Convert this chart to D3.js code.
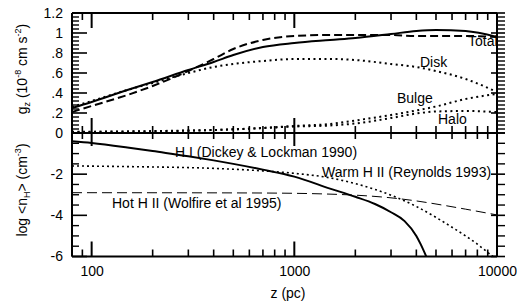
<!DOCTYPE html>
<html><head><meta charset="utf-8">
<script src="https://cdn.jsdelivr.net/npm/d3@7"></script>
<style>
body{margin:0;background:#fff}
svg{display:block}
text{font-family:"Liberation Sans",Arial,Helvetica,sans-serif;fill:#000}
</style>
</head><body>
<svg id="c" width="517" height="306"></svg>
<script>
// ---------- data ----------
const zTop = [80,100,150,200,300,400,500,700,1000,1500,2000,3000,4000,5000,7000,10000];
const gTotal = [0.25,0.31,0.43,0.51,0.63,0.71,0.78,0.86,0.90,0.93,0.95,0.99,1.02,1.03,1.02,0.96];
const gAlt   = [0.21,0.27,0.38,0.47,0.62,0.74,0.84,0.93,0.97,0.98,0.98,0.98,0.97,0.97,0.97,0.96];
const gDisk  = [0.26,0.32,0.43,0.50,0.60,0.66,0.69,0.72,0.74,0.74,0.73,0.69,0.66,0.62,0.54,0.41];
const gHalo  = [0.012,0.013,0.016,0.019,0.025,0.030,0.036,0.050,0.070,0.090,0.125,0.180,0.225,0.265,0.340,0.390];
const gBulge = [0.010,0.011,0.014,0.017,0.023,0.030,0.037,0.050,0.065,0.075,0.095,0.150,0.195,0.215,0.220,0.210];

const zHI  = [80,100,150,200,300,400,500,700,1000,1500,2000,2500,3000,3500,4000,4200,4500];
const nHI  = [-0.40,-0.48,-0.70,-0.88,-1.13,-1.33,-1.50,-1.78,-2.12,-2.70,-3.10,-3.45,-3.85,-4.28,-5.00,-5.40,-6.05];
const zWarm = [80,100,200,300,500,700,1000,1500,2000,3000,4000,5000,6000,7000,8000,9000,10000];
const nWarm = [-1.60,-1.61,-1.65,-1.68,-1.76,-1.84,-1.96,-2.18,-2.46,-3.02,-3.57,-4.10,-4.58,-5.00,-5.40,-5.80,-6.15];
const zHot = [80,500,1000,1500,2000,3000,4000,5000,7000,10000];
const nHot = [-2.90,-2.91,-2.93,-2.97,-3.02,-3.15,-3.30,-3.45,-3.70,-3.98];

const xMajor = [100,1000,10000];
const xMinor = [80,90,200,300,400,500,600,700,800,900,2000,3000,4000,5000,6000,7000,8000,9000];
const xLabels = ["100","1000","10000"];
const yTopMajor = [0,0.2,0.4,0.6,0.8,1.0,1.2];
const yTopLabels = ["0",".2",".4",".6",".8","1","1.2"];
const yBotMajor = [-6,-4,-2];
const yBotLabels = ["-6","-4","-2"];
const yBotMajorTicks = [-6,-4,-2,0];

// ---------- layout ----------
const L=72, R=497, T=13, M=133, B=256.5;
const svg = d3.select('#c');
const x = d3.scaleLog().domain([80,10000]).range([L,R]);
const yTop = d3.scaleLinear().domain([0,1.2]).range([M,T]);
const yBot = d3.scaleLinear().domain([-6,0]).range([B,M]);

const yTopMinor = d3.range(0,1.2001,0.04).map(v=>+v.toFixed(2)).filter(v=>!yTopMajor.some(m=>Math.abs(m-v)<1e-6));
const yBotMinor = d3.range(-6,0.001,0.5).filter(v=>v%2!==0);

const defs = svg.append('defs');
defs.append('clipPath').attr('id','ct').append('rect').attr('x',L).attr('y',T).attr('width',R-L).attr('height',M-T);
defs.append('clipPath').attr('id','cb').append('rect').attr('x',L).attr('y',M).attr('width',R-L).attr('height',B-M);

// frame
const frame = svg.append('g').attr('stroke','#000').attr('stroke-width',2).attr('fill','none');
[[L,T,R,T],[L,B,R,B],[L,M,R,M],[L,T,L,B],[R,T,R,B]].forEach(s=>{
  frame.append('line').attr('x1',s[0]).attr('y1',s[1]).attr('x2',s[2]).attr('y2',s[3]);
});

// tick labels
function drawLabels(gen, tx, ty, vals, labs, pad){
  const g = svg.append('g').attr('transform',`translate(${tx},${ty})`);
  g.call(gen.tickValues(vals).tickSize(0).tickPadding(pad).tickFormat((d,i)=>labs[i]));
  g.select('.domain').remove();
  g.selectAll('.tick line').remove();
  g.selectAll('text').attr('font-size',14).attr('fill','#000');
}
drawLabels(d3.axisLeft(yTop), L, 0, yTopMajor, yTopLabels, 9);
drawLabels(d3.axisLeft(yBot), L, 0, yBotMajor, yBotLabels, 9);
drawLabels(d3.axisBottom(x), 0, B, xMajor, xLabels, 10);

// ---------- series ----------
function drawLine(zs, vs, ys, clip, w, dash){
  const line = d3.line().x(d=>x(d[0])).y(d=>ys(d[1])).curve(d3.curveMonotoneX);
  const p = svg.append('path').datum(zs.map((z,i)=>[z,vs[i]]))
    .attr('d',line).attr('fill','none').attr('stroke','#000')
    .attr('stroke-width',w).attr('clip-path',`url(#${clip})`);
  if (dash) p.attr('stroke-dasharray',dash);
}
drawLine(zTop, gDisk, yTop, 'ct', 2, '2,3.5');
drawLine(zTop, gHalo, yTop, 'ct', 2, '2,3.5');
drawLine(zTop, gBulge, yTop, 'ct', 2, '2,3.5');
drawLine(zTop, gAlt, yTop, 'ct', 2, '8,4');
drawLine(zTop, gTotal, yTop, 'ct', 2);

drawLine(zHI, nHI, yBot, 'cb', 2);
drawLine(zWarm, nWarm, yBot, 'cb', 1.6, '2,3');
drawLine(zHot, nHot, yBot, 'cb', 1, '10,5');

// ---------- annotations ----------
const ann = [
  ["Total", 468, 46],
  ["Disk", 420, 67],
  ["Bulge", 397, 103],
  ["Halo", 438, 124],
  ["H I (Dickey & Lockman 1990)", 175, 157],
  ["Warm H II (Reynolds 1993)", 322, 177],
  ["Hot H II (Wolfire et al 1995)", 112, 208]
];
svg.append('g').selectAll('text').data(ann).join('text')
  .attr('x',d=>d[1]).attr('y',d=>d[2]).attr('font-size',14).text(d=>d[0]);

// axis titles
svg.append('text').attr('x',288).attr('y',298).attr('text-anchor','middle').attr('font-size',14).text('z (pc)');

const t1 = svg.append('text').attr('transform','translate(27,69) rotate(-90)').attr('text-anchor','middle').attr('font-size',14);
t1.append('tspan').text('g');
t1.append('tspan').attr('font-size',9).attr('dy',3).text('z');
t1.append('tspan').attr('dy',-3).text(' (10');
t1.append('tspan').attr('font-size',9).attr('dy',-6).text('-8');
t1.append('tspan').attr('dy',6).text(' cm s');
t1.append('tspan').attr('font-size',9).attr('dy',-6).text('-2');
t1.append('tspan').attr('dy',6).text(')');

const t2 = svg.append('text').attr('transform','translate(27,190) rotate(-90)').attr('text-anchor','middle').attr('font-size',14);
t2.append('tspan').text('log <n');
t2.append('tspan').attr('font-size',9).attr('dy',3).text('H');
t2.append('tspan').attr('dy',-3).text('> (cm');
t2.append('tspan').attr('font-size',9).attr('dy',-6).text('-3');
t2.append('tspan').attr('dy',6).text(')');

// ---------- ticks (plain lines placed with the scales, drawn last) ----------
const tg = svg.append('g').attr('stroke','#000');
function xTicks(vals, y0, len, w){
  tg.append('g').selectAll('line').data(vals).join('line')
    .attr('x1',d=>x(d)).attr('x2',d=>x(d)).attr('y1',y0).attr('y2',y0+len)
    .attr('stroke','#000').attr('stroke-width',w);
}
function yTicks(scale, vals, x0, len, w){
  tg.append('g').selectAll('line').data(vals).join('line')
    .attr('y1',d=>scale(d)).attr('y2',d=>scale(d)).attr('x1',x0).attr('x2',x0+len)
    .attr('stroke','#000').attr('stroke-width',w);
}
xTicks(xMajor, T, 15, 2);  xTicks(xMinor, T, 7, 1.6);
xTicks(xMajor, M, -15, 2); xTicks(xMinor, M, -7, 1.6);
xTicks(xMajor, M, 13, 2);  xTicks(xMinor, M, 6, 1.6);
xTicks(xMajor, B, -15, 2); xTicks(xMinor, B, -7, 1.6);
yTicks(yTop, yTopMajor, L, 15, 1.6); yTicks(yTop, yTopMinor, L, 7, 1.4);
yTicks(yBot, yBotMajorTicks, L, 15, 1.6); yTicks(yBot, yBotMinor, L, 7, 1.4);
yTicks(yTop, yTopMajor, R-6, 14, 1.6); yTicks(yTop, yTopMinor, R, 8, 1.4);
yTicks(yBot, yBotMajorTicks, R-6, 14, 1.6); yTicks(yBot, yBotMinor, R, 8, 1.4);
</script>
</body></html>
